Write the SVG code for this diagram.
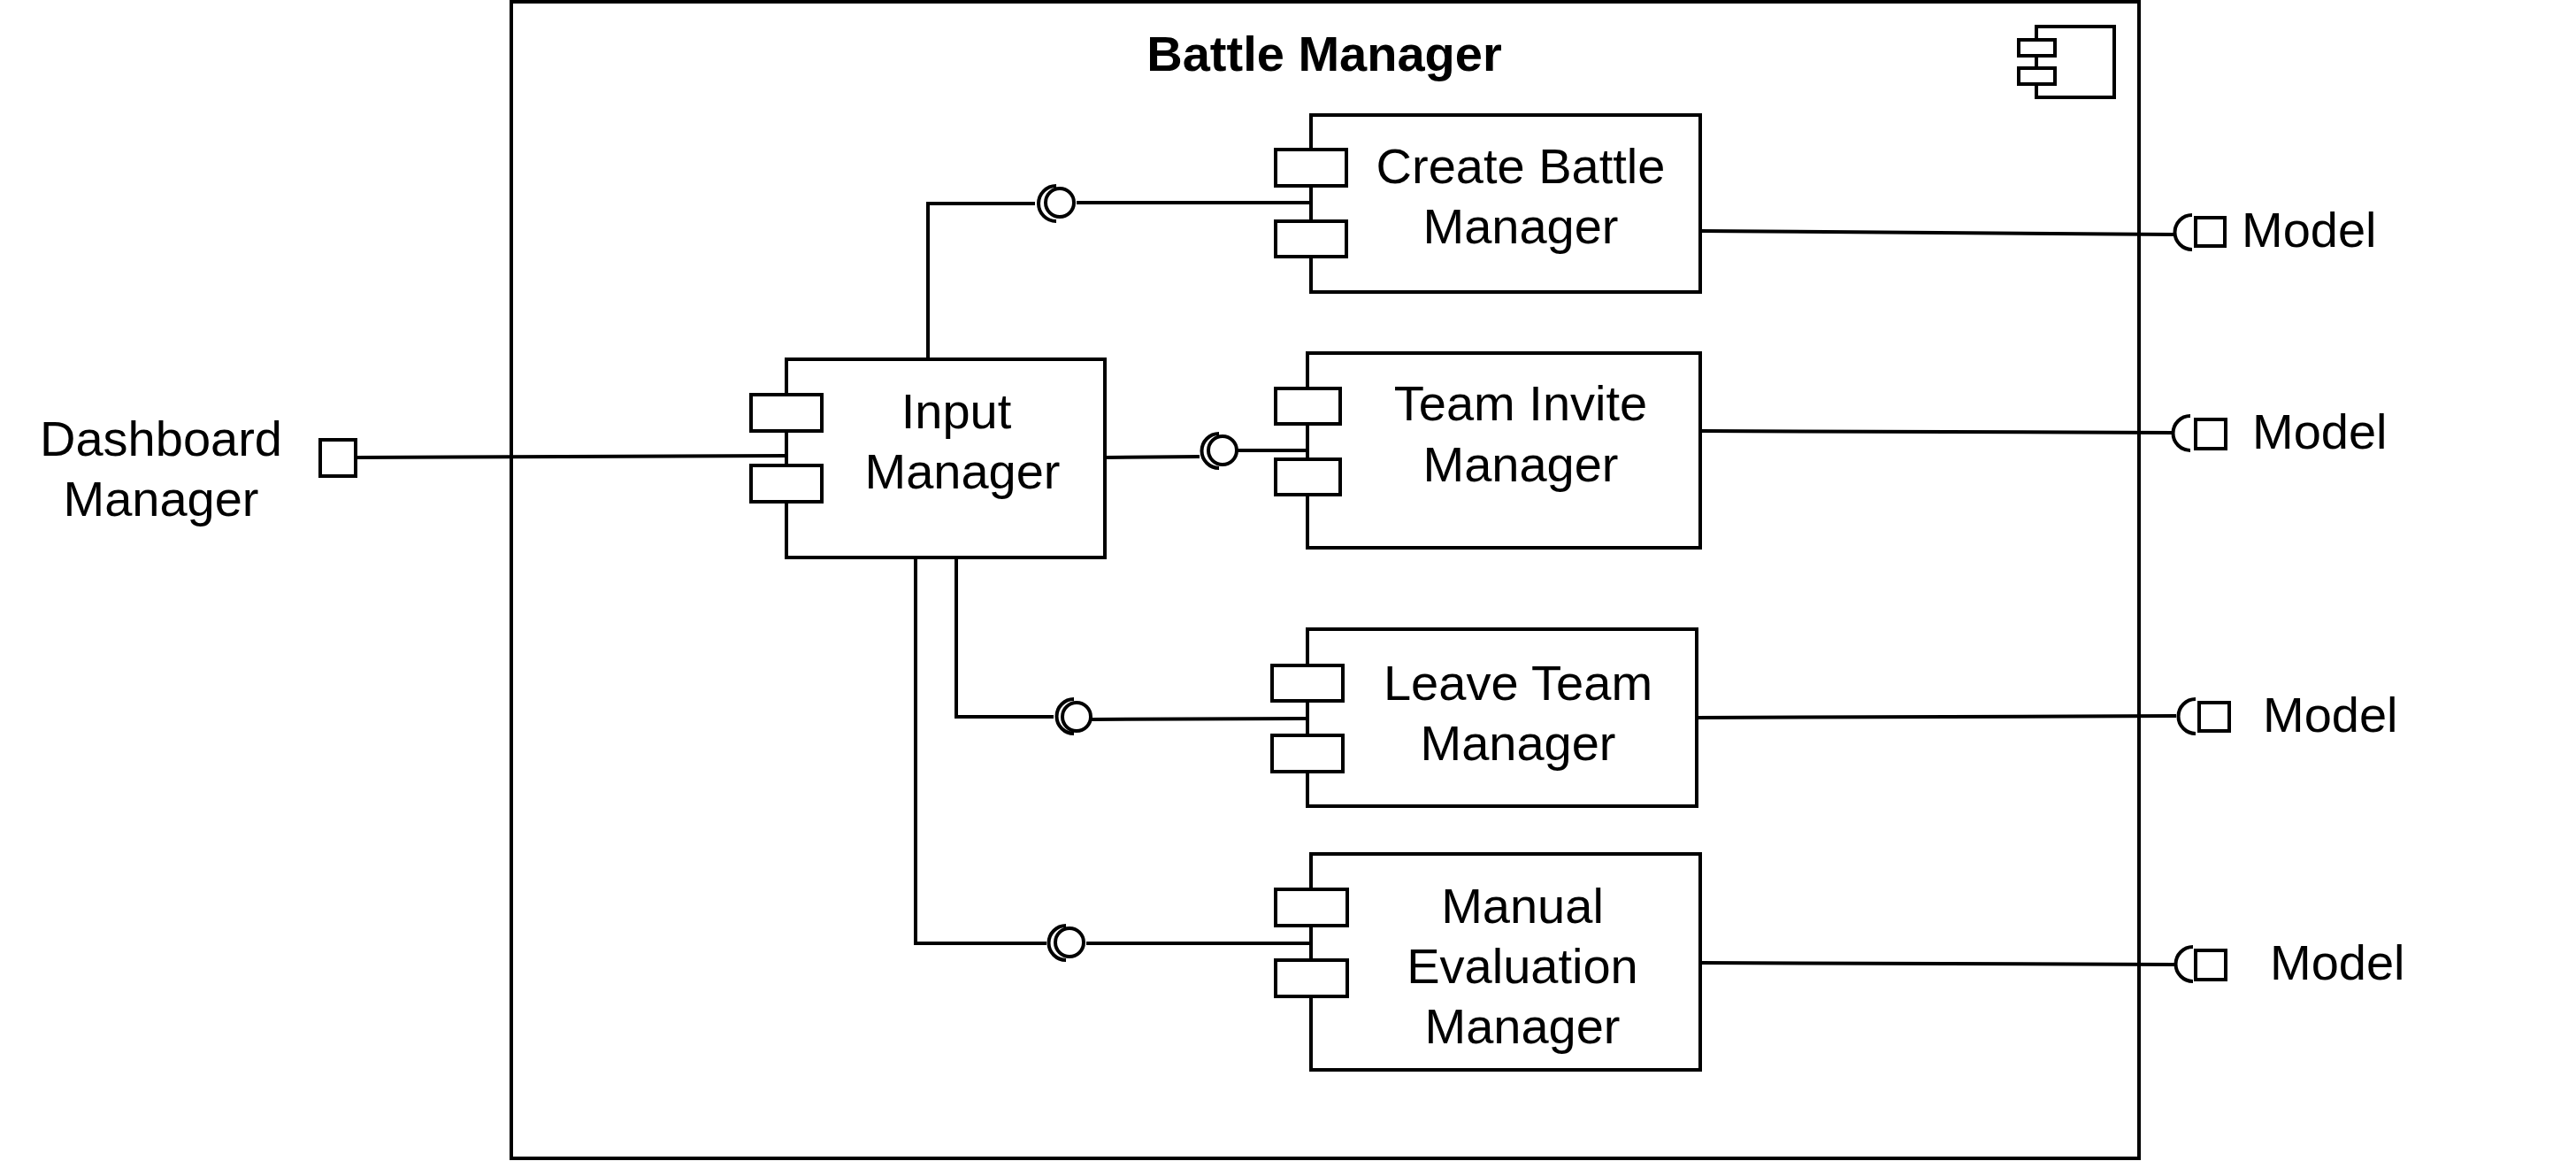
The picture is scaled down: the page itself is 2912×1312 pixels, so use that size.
<svg xmlns="http://www.w3.org/2000/svg" width="2912" height="1312" viewBox="0 0 2912 1312">
<style>
.b{fill:#fff;stroke:#000;stroke-width:4}
.l{fill:none;stroke:#000;stroke-width:4}
.t{font-family:"Liberation Sans",Arial,sans-serif;font-size:56px;fill:#000;text-anchor:middle}
.s{font-family:"Liberation Sans",Arial,sans-serif;font-size:56px;fill:#000}
.h{font-weight:bold;font-size:56px}
</style>
<rect width="2912" height="1312" fill="#fff"/>
<g id="battle-manager">
<rect class="b" x="578" y="2" width="1840" height="1307"/>
<text class="t h" x="1497" y="80">Battle Manager</text>
<rect class="b" x="2302" y="30" width="88" height="80"/>
<rect class="b" x="2282" y="45" width="41" height="18"/>
<rect class="b" x="2282" y="77" width="41" height="18"/>
</g>
<g id="connectors">
<path class="l" d="M402 517L889 515"/>
<path class="l" d="M1049 405V230H1170"/>
<path class="l" d="M1217 229H1482"/>
<path class="l" d="M1249 517L1356 516"/>
<path class="l" d="M1399 509H1482"/>
<path class="l" d="M1081 630V810H1191"/>
<path class="l" d="M1234 813L1478 812"/>
<path class="l" d="M1035 630V1066H1183"/>
<path class="l" d="M1228 1066H1482"/>
<path class="l" d="M1922 261L2457 265"/>
<path class="l" d="M1922 487L2457 489"/>
<path class="l" d="M1918 811L2460 809"/>
<path class="l" d="M1922 1088L2458 1090"/>
</g>
<g id="input-manager">
<rect class="b" x="889" y="406" width="360" height="224"/>
<rect class="b" x="849" y="446" width="80" height="41"/>
<rect class="b" x="849" y="526" width="80" height="41"/>
<text class="t" x="1081" y="484">Input</text>
<text class="t" x="1088" y="552">Manager</text>
</g>
<g id="create-battle-manager">
<rect class="b" x="1482" y="130" width="440" height="200"/>
<rect class="b" x="1442" y="169" width="80" height="41"/>
<rect class="b" x="1442" y="250" width="80" height="40"/>
<text class="t" x="1719" y="207">Create Battle</text>
<text class="t" x="1719" y="275">Manager</text>
</g>
<g id="team-invite-manager">
<rect class="b" x="1478" y="399" width="444" height="220"/>
<rect class="b" x="1442" y="439" width="73" height="40"/>
<rect class="b" x="1442" y="519" width="73" height="40"/>
<text class="t" x="1719" y="475">Team Invite</text>
<text class="t" x="1719" y="544">Manager</text>
</g>
<g id="leave-team-manager">
<rect class="b" x="1478" y="711" width="440" height="200"/>
<rect class="b" x="1438" y="752" width="80" height="40"/>
<rect class="b" x="1438" y="831" width="80" height="41"/>
<text class="t" x="1716" y="791">Leave Team</text>
<text class="t" x="1716" y="859">Manager</text>
</g>
<g id="manual-evaluation-manager">
<rect class="b" x="1482" y="965" width="440" height="244"/>
<rect class="b" x="1442" y="1005" width="81" height="41"/>
<rect class="b" x="1442" y="1085" width="81" height="41"/>
<text class="t" x="1721" y="1043">Manual</text>
<text class="t" x="1721" y="1111">Evaluation</text>
<text class="t" x="1721" y="1179">Manager</text>
</g>
<g id="lollipop-create"><path class="l" d="M1194 210A20 20 0 0 0 1194 250"/><circle class="b" cx="1198" cy="229" r="16"/></g>
<g id="lollipop-team"><path class="l" d="M1378 490A19.5 19.5 0 0 0 1378 529"/><circle class="b" cx="1382" cy="509" r="16"/></g>
<g id="lollipop-leave"><path class="l" d="M1214 790A19.5 19.5 0 0 0 1214 829"/><circle class="b" cx="1217" cy="810" r="16"/></g>
<g id="lollipop-manual"><path class="l" d="M1205 1046A19.5 19.5 0 0 0 1205 1085"/><circle class="b" cx="1209" cy="1065" r="16"/></g>
<g id="dashboard-port">
<rect class="b" x="362" y="497" width="40" height="41"/>
<text class="t" x="182" y="515">Dashboard</text>
<text class="t" x="182" y="583">Manager</text>
</g>
<g id="model-1"><path class="l" d="M2478 243A19.5 19.5 0 0 0 2478 282"/><rect class="b" x="2482" y="246" width="33" height="32"/><text class="s" x="2534" y="279">Model</text></g>
<g id="model-2"><path class="l" d="M2476 470A19.5 19.5 0 0 0 2476 509"/><rect class="b" x="2482" y="474" width="34" height="33"/><text class="s" x="2546" y="507">Model</text></g>
<g id="model-3"><path class="l" d="M2482 790A19.5 19.5 0 0 0 2482 829"/><rect class="b" x="2486" y="794" width="34" height="32"/><text class="s" x="2558" y="827">Model</text></g>
<g id="model-4"><path class="l" d="M2479 1070A19.5 19.5 0 0 0 2479 1109"/><rect class="b" x="2482" y="1074" width="34" height="33"/><text class="s" x="2566" y="1107">Model</text></g>
</svg>
